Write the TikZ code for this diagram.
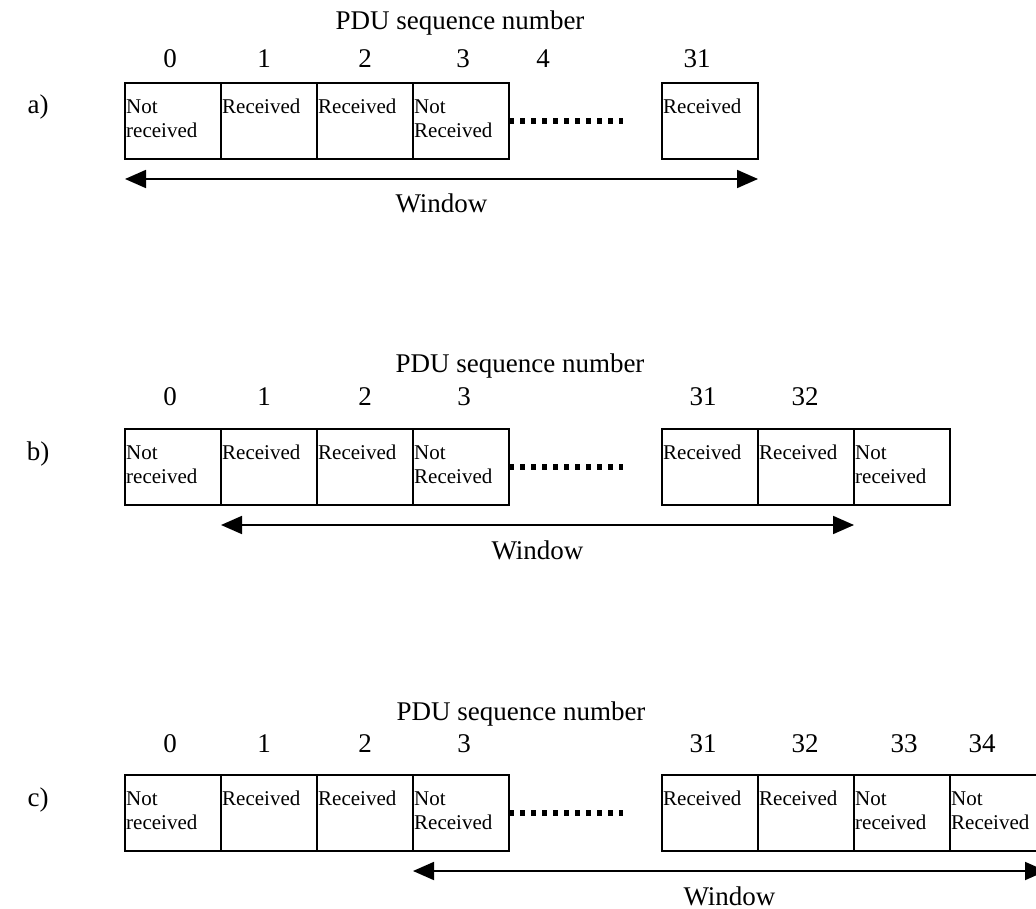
\documentclass[tikz,border=0pt]{standalone}
\usepackage{fontspec}
\setmainfont{Liberation Serif}
\usetikzlibrary{arrows.meta,positioning}

\begin{document}
\begin{tikzpicture}[
    x=0.5pt, y=-0.5pt,
    cell/.style={rectangle,draw,line width=0.9pt,minimum width=48pt,minimum height=38pt,
      inner xsep=0.6pt,inner ysep=0pt,outer sep=0pt,text width=46.8pt,align=left,
      font=\fontsize{10.5}{12}\selectfont,
      execute at begin node=\strut,execute at end node=\strut},
    seqno/.style={anchor=base,inner sep=0pt,font=\fontsize{13.5}{16}\selectfont},
    gap/.style={line width=3pt,dash pattern=on 2.6pt off 2.9pt},
    window/.style={{Triangle[length=10.5pt,width=9pt]}-{Triangle[length=10.5pt,width=9pt]},
      line width=0.9pt},
    winlbl/.style={midway,anchor=base,yshift=-17pt,inner sep=0pt,
      font=\fontsize{13.5}{16}\selectfont}
  ]
    \useasboundingbox (0,0) rectangle (1036,908);
    \clip (0,0) rectangle (1036,908);

    % a)
    \node[seqno] (taga) at (38,114) {a)};
    \node[seqno] (pdua) at (460,30) {PDU sequence number};
    \node[cell] (a0) at (173,121) {Not\\received};
    \node[cell,right=0pt of a0] (a1) {Received\\};
    \node[cell,right=0pt of a1] (a2) {Received\\};
    \node[cell,right=0pt of a2] (a3) {Not\\Received};
    \node[cell] (a31) at (710,121) {Received\\};
    \node[seqno] (na0) at (170,68) {0};
    \node[seqno] (na1) at (264,68) {1};
    \node[seqno] (na2) at (365,68) {2};
    \node[seqno] (na3) at (463,68) {3};
    \node[seqno] (na4) at (543,68) {4};
    \node[seqno] (na31) at (697,68) {31};
    \draw[gap] (a3.east) -- ([xshift=57pt]a3.east);
    \draw[window] ([yshift=-10pt]a0.south west) -- node[winlbl] (wina) {Window}
      ([yshift=-10pt]a31.south east);

    % b)
    \node[seqno] (tagb) at (38,460) {b)};
    \node[seqno] (pdub) at (520,372) {PDU sequence number};
    \node[cell] (b0) at (173,467) {Not\\received};
    \node[cell,right=0pt of b0] (b1) {Received\\};
    \node[cell,right=0pt of b1] (b2) {Received\\};
    \node[cell,right=0pt of b2] (b3) {Not\\Received};
    \node[cell] (b31) at (710,467) {Received\\};
    \node[cell,right=0pt of b31] (b32) {Received\\};
    \node[cell,right=0pt of b32] (b33) {Not\\received};
    \node[seqno] (nb0) at (170,405) {0};
    \node[seqno] (nb1) at (264,405) {1};
    \node[seqno] (nb2) at (365,405) {2};
    \node[seqno] (nb3) at (464,405) {3};
    \node[seqno] (nb31) at (703,405) {31};
    \node[seqno] (nb32) at (805,405) {32};
    \draw[gap] (b3.east) -- ([xshift=57pt]b3.east);
    \draw[window] ([yshift=-10pt]b1.south west) -- node[winlbl] (winb) {Window}
      ([yshift=-10pt]b32.south east);

    % c)
    \node[seqno] (tagc) at (38,806) {c)};
    \node[seqno] (pduc) at (521,720) {PDU sequence number};
    \node[cell] (c0) at (173,813) {Not\\received};
    \node[cell,right=0pt of c0] (c1) {Received\\};
    \node[cell,right=0pt of c1] (c2) {Received\\};
    \node[cell,right=0pt of c2] (c3) {Not\\Received};
    \node[cell] (c31) at (710,813) {Received\\};
    \node[cell,right=0pt of c31] (c32) {Received\\};
    \node[cell,right=0pt of c32] (c33) {Not\\received};
    \node[cell,right=0pt of c33] (c34) {Not\\Received};
    \node[seqno] (nc0) at (170,752) {0};
    \node[seqno] (nc1) at (264,752) {1};
    \node[seqno] (nc2) at (365,752) {2};
    \node[seqno] (nc3) at (464,752) {3};
    \node[seqno] (nc31) at (703,752) {31};
    \node[seqno] (nc32) at (805,752) {32};
    \node[seqno] (nc33) at (904,752) {33};
    \node[seqno] (nc34) at (982,752) {34};
    \draw[gap] (c3.east) -- ([xshift=57pt]c3.east);
    \draw[window] ([yshift=-10pt]c3.south west) -- node[winlbl] (winc) {Window}
      ([yshift=-10pt]c34.south east);
\end{tikzpicture}
\end{document}
